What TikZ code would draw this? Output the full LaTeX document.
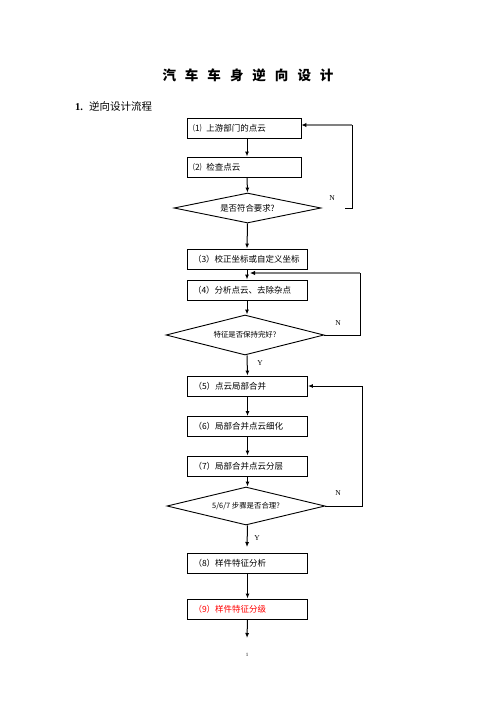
\documentclass[tikz,border=0pt]{standalone}
\usepackage{fontspec}
\setmainfont{Liberation Serif}
\newfontfamily\cjk{Noto Sans CJK SC}
\usetikzlibrary{arrows.meta,shapes.geometric}
\begin{document}
\begin{tikzpicture}[x=1pt,y=-1pt,
  box/.style={draw, line width=0.9pt, minimum height=20pt, inner xsep=6pt, inner ysep=0pt,
    align=left, text width=108pt, font=\cjk\fontsize{8.5}{10}\selectfont},
  sbox/.style={box, text width=102pt},
  dia/.style={draw, diamond, line width=0.9pt, shape aspect=5, inner sep=0pt},
  arr/.style={-{Latex[length=5pt,width=4pt]}, line width=1pt},
  loopline/.style={line width=1pt},
  grayline/.style={line width=1.4pt, draw=black!50, -{Latex[length=5pt,width=4.5pt,color=black]}},
  lbl/.style={font=\fontsize{7.5}{9}\selectfont},
]
\useasboundingbox (0,0) rectangle (496,702);
\fill[white] (0,0) rectangle (496,702);

\node[font=\cjk\bfseries\fontsize{13.5}{15}\selectfont] (title) at (248,75)
  {汽\hspace{9pt}车\hspace{9pt}车\hspace{9pt}身\hspace{9pt}逆\hspace{9pt}向\hspace{9pt}设\hspace{9pt}计};
\node[anchor=west, font=\fontsize{10.5}{12}\selectfont, inner sep=0pt] (sec) at (75,106)
  {\textbf{1.}\hspace{6pt}{\cjk 逆向设计流程}};

\node[sbox] (b1) at (244,128) {⑴\hspace{5pt}上游部门的点云};
\node[sbox] (b2) at (244,167) {⑵\hspace{5pt}检查点云};
\node[dia, minimum width=147pt, minimum height=30pt, font=\cjk\fontsize{8.4}{10}\selectfont] (d1) at (247.5,208) {是否符合要求?};
\node[box] (b3) at (247,259) {（3）校正坐标或自定义坐标};
\node[box] (b4) at (247,290) {（4）分析点云、去除杂点};
\node[dia, minimum width=158pt, minimum height=40pt, font=\cjk\fontsize{7.4}{9}\selectfont] (d2) at (245,335) {特征是否保持完好?};
\node[box] (b5) at (247.5,386) {（5）点云局部合并};
\node[box] (b6) at (247.5,426.5) {（6）局部合并点云细化};
\node[box] (b7) at (247.5,466) {（7）局部合并点云分层};
\node[dia, minimum width=158pt, minimum height=38pt, font=\cjk\fontsize{7.4}{9}\selectfont] (d3) at (246,506) {5/6/7 步骤是否合理?};
\node[box] (b8) at (247.5,563.5) {（8）样件特征分析};
\node[box, text=red] (b9) at (247.5,609) {（9）样件特征分级};

\node[lbl] (n1) at (332,198) {N};
\node[lbl] (n2) at (338,323) {N};
\node[lbl] (y2) at (260,363) {Y};
\node[lbl] (n3) at (338,493) {N};
\node[lbl] (y3) at (257,538) {Y};
\node[font=\fontsize{5}{6}\selectfont] (page) at (247,655) {1};

\coordinate (j34) at (247,274);
\coordinate (e3) at (247,547);
\coordinate (e9) at (247,638);

% main flow
\draw[arr] ([xshift=3pt]b1.south) -- ([xshift=3pt]b2.north);
\draw[arr] ([xshift=3pt]b2.south) -- (d1.north);
\draw[arr] (d1.south) -- (b3.north);
\draw[arr] (b3.south) -- (b4.north);
\draw[arr] (b4.south) -- (b4.south |- d2.north);
\draw[arr] (b4.south |- d2.south) -- (b5.north);
\draw[arr] (b5.south) -- (b6.north);
\draw[arr] (b6.south) -- (b7.north);
\draw[arr] (b7.south) -- (b7.south |- d3.north);
\draw[arr] (b7.south |- d3.south) -- (e3);
\draw[arr] (b8.south) -- (b9.north);
\draw[arr] (b9.south) -- (e9);

% loop 1
\coordinate (l1a) at ([xshift=24pt]d1.east);
\coordinate (l1b) at (352,208);
\coordinate (l1c) at (352,125);
\draw[loopline] (l1a) -- (l1b) -- (l1c);
\draw[grayline] (l1c) -- (b1.east |- l1c);

% loop 2
\coordinate (l2b) at (360,335);
\coordinate (l2c) at (360,273);
\draw[loopline] (d2.east) -- (l2b) -- (l2c);
\draw[grayline] (l2c) -- ([xshift=3pt]j34 |- l2c);

% loop 3
\draw[arr] (d3.east) -- (362,506) |- (b5.east);
\end{tikzpicture}
\end{document}
